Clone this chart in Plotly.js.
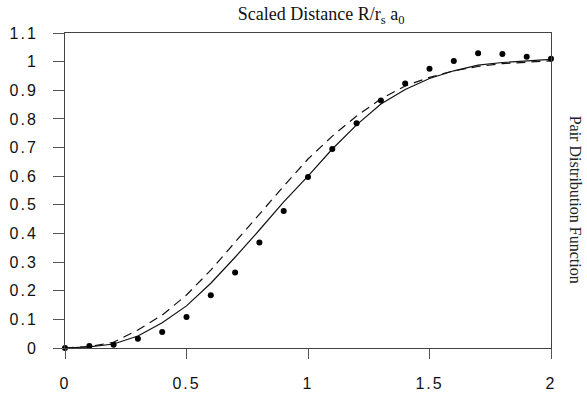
<!DOCTYPE html>
<html>
<head>
<meta charset="utf-8">
<script src="https://cdn.plot.ly/plotly-3.0.1.min.js"></script>
<style>
  html, body { margin: 0; padding: 0; background: #fff; }
  #chart { width: 587px; height: 395px; }
  .xtick text, .ytick text { letter-spacing: 2px; }
</style>
</head>
<body>
<div id="chart"></div>
<script>
const xValues = [0, 0.1, 0.2, 0.3, 0.4, 0.5, 0.6, 0.7, 0.8, 0.9, 1.0, 1.1, 1.2, 1.3, 1.4, 1.5, 1.6, 1.7, 1.8, 1.9, 2.0];
const dotValues = [0, 0.007, 0.011, 0.032, 0.056, 0.108, 0.184, 0.264, 0.368, 0.478, 0.597, 0.695, 0.785, 0.864, 0.924, 0.975, 1.002, 1.029, 1.027, 1.017, 1.010];
const solidValues = [0, 0.004, 0.014, 0.042, 0.088, 0.147, 0.226, 0.317, 0.412, 0.51, 0.60, 0.695, 0.779, 0.852, 0.903, 0.941, 0.968, 0.988, 0.997, 1.003, 1.008];
const dashedValues = [0, 0.005, 0.02, 0.063, 0.115, 0.185, 0.272, 0.371, 0.47, 0.565, 0.66, 0.74, 0.81, 0.87, 0.915, 0.945, 0.968, 0.983, 0.993, 0.999, 1.003];
const xTickVals = [0, 0.5, 1, 1.5, 2];
const xTickText = ["0", "0.5", "1", "1.5", "2"];
const yTickVals = [0, 0.1, 0.2, 0.3, 0.4, 0.5, 0.6, 0.7, 0.8, 0.9, 1, 1.1];
const yTickText = ["0", "0.1", "0.2", "0.3", "0.4", "0.5", "0.6", "0.7", "0.8", "0.9", "1", "1.1"];

const traces = [
  { x: xValues, y: dashedValues, mode: 'lines', line: { color: '#111', width: 1.2, dash: '9px,6px' }, hoverinfo: 'skip' },
  { x: xValues, y: solidValues, mode: 'lines', line: { color: '#111', width: 1.2 }, hoverinfo: 'skip' },
  { x: xValues, y: dotValues, mode: 'markers', marker: { color: '#000', size: 6 }, cliponaxis: false }
];

const tickFont = { family: 'Liberation Sans, Arial, sans-serif', size: 16, color: '#111' };

const layout = {
  width: 587, height: 395,
  margin: { l: 65, r: 36, t: 33, b: 47 },
  paper_bgcolor: '#fff', plot_bgcolor: '#fff',
  showlegend: false,
  title: {
    text: 'Scaled Distance R/r<sub>s</sub> a<sub>0</sub>',
    font: { family: 'Liberation Serif, Times New Roman, serif', size: 18, color: '#111' },
    x: 0.547, xref: 'container', xanchor: 'center',
    y: 1 - 14 / 395, yref: 'container', yanchor: 'middle'
  },
  xaxis: {
    range: [0, 2], tickvals: xTickVals, ticktext: xTickText,
    ticks: 'outside', ticklen: 10, tickcolor: '#555', tickwidth: 1,
    showline: true, linecolor: '#444', linewidth: 1, mirror: true,
    showgrid: false, zeroline: false, tickfont: tickFont,
    ticklabelstandoff: 11
  },
  yaxis: {
    range: [0, 1.1], tickvals: yTickVals, ticktext: yTickText,
    ticks: 'outside', ticklen: 11, tickcolor: '#555', tickwidth: 1,
    showline: true, linecolor: '#444', linewidth: 1, mirror: true,
    showgrid: false, zeroline: false, tickfont: tickFont,
    ticklabelstandoff: 12
  },
  annotations: [{
    text: 'Pair Distribution Function',
    xref: 'paper', yref: 'paper', x: 1.05, y: 0.47,
    xanchor: 'center', yanchor: 'middle', textangle: 90, showarrow: false,
    font: { family: 'Liberation Serif, Times New Roman, serif', size: 16, color: '#222' }
  }]
};

Plotly.newPlot('chart', traces, layout, { displayModeBar: false, staticPlot: true });
</script>
</body>
</html>
